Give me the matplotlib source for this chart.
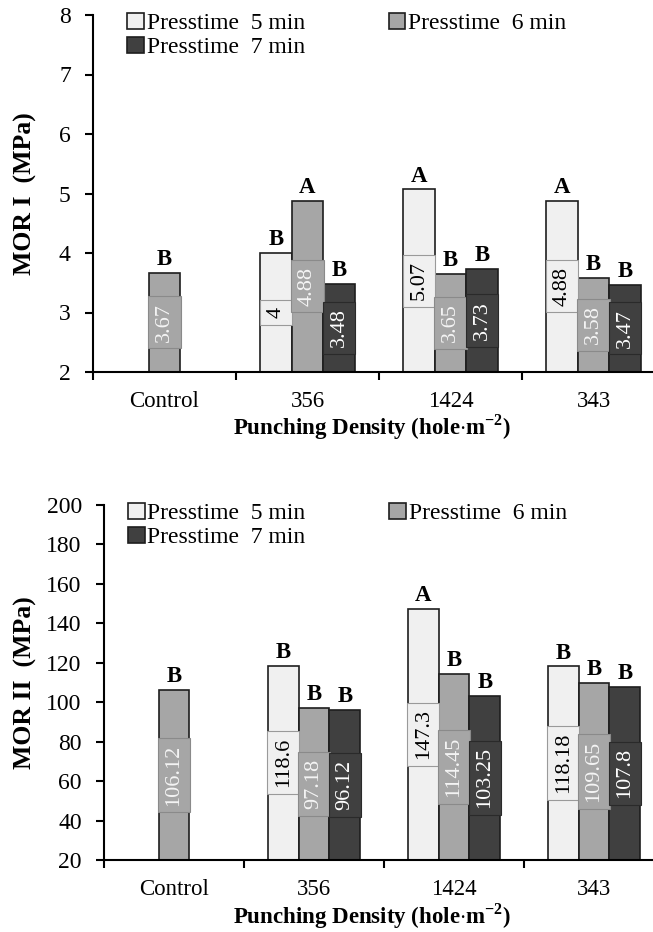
"""
MOR I / MOR II bar charts by punching density and press time
"""
import numpy as np
import matplotlib
matplotlib.use("Agg")
import matplotlib.pyplot as plt

plt.rcParams["font.family"] = ["Liberation Serif", "DejaVu Serif"]
plt.rcParams["mathtext.fontset"] = "custom"
plt.rcParams["mathtext.rm"] = "Liberation Serif"
plt.rcParams["mathtext.bf"] = "Liberation Serif:bold"

categories = ["Control", "356", "1424", "343"]
series_names = ["Presstime  5 min", "Presstime  6 min", "Presstime  7 min"]

# MOR I (MPa)
mor1_5 = [0, 4, 5.07, 4.88]
mor1_6 = [3.67, 4.88, 3.65, 3.58]
mor1_7 = [0, 3.48, 3.73, 3.47]
mor1_let_5 = ["", "B", "A", "A"]
mor1_let_6 = ["B", "A", "B", "B"]
mor1_let_7 = ["", "B", "B", "B"]

# MOR II (MPa)
mor2_5 = [0, 118.6, 147.3, 118.18]
mor2_6 = [106.12, 97.18, 114.45, 109.65]
mor2_7 = [0, 96.12, 103.25, 107.8]
mor2_let_5 = ["", "B", "A", "B"]
mor2_let_6 = ["B", "B", "B", "B"]
mor2_let_7 = ["", "B", "B", "B"]

fills = ["#f0f0f0", "#a6a6a6", "#404040"]
txt_colors = ["black", "#f4f4f4", "white"]
box_edges = ["#9a9a9a", "#8a8a8a", "#2a2a2a"]


def panel(ax, series, letters, ymin, ymax, ystep, ylabel, xlab_x, xlab_y, leg_x):
    x = np.arange(len(categories))
    w = 0.22
    bars = []
    for i, (vals, lets) in enumerate(zip(series, letters)):
        pos = x + (i - 1) * w
        heights = [v - ymin for v in vals]
        b = ax.bar(pos, heights, w, bottom=ymin, color=fills[i],
                   edgecolor="#1e1e1e", linewidth=1.2, label=series_names[i])
        bars.append(b)
        for p, v, l in zip(pos, vals, lets):
            if v <= 0:
                continue
            ax.text(p, (ymin + v) / 2, f"{v:g}", rotation=90, ha="center", va="center",
                    fontsize=16, color=txt_colors[i],
                    bbox=dict(boxstyle="square,pad=0.3", facecolor=fills[i],
                              edgecolor=box_edges[i], linewidth=0.8))
            ax.annotate(l, (p, v), xytext=(0, 2), textcoords="offset points",
                        ha="center", va="bottom", fontsize=16.5, fontweight="bold")
    ax.set_ylim(ymin, ymax)
    ax.set_yticks(np.arange(ymin, ymax + ystep / 2, ystep))
    ax.set_xlim(-0.5, 3.5)
    ax.set_xticks(x)
    ax.set_xticklabels(categories)
    ax.set_xticks(np.arange(-0.5, 3.6, 1), minor=True)
    ax.tick_params(axis="x", which="major", length=0, pad=14, labelsize=16.5)
    ax.tick_params(axis="x", which="minor", length=6, width=1.5, direction="out")
    ax.tick_params(axis="y", length=6, width=1.5, labelsize=17, pad=10)
    for s in ["top", "right"]:
        ax.spines[s].set_visible(False)
    for s in ["left", "bottom"]:
        ax.spines[s].set_linewidth(1.5)
    ax.set_ylabel(ylabel, fontsize=18.5, fontweight="bold")
    ax.set_xlabel(r"Punching Density (hole$\cdot$m$^{\mathbf{-2}}$)", fontsize=16.5,
                  fontweight="bold")
    ax.xaxis.set_label_coords(xlab_x, xlab_y)
    handles = [bars[0], bars[2], bars[1]]
    labels = [series_names[0], series_names[2], series_names[1]]
    ax.legend(handles, labels, ncol=2, loc="upper left", bbox_to_anchor=(leg_x, 1.006),
              frameon=False, fontsize=17, handlelength=0.7, handleheight=0.7,
              handletextpad=0.12, columnspacing=3.55, labelspacing=0.1,
              borderpad=0, borderaxespad=0)


fig = plt.figure(figsize=(6.53, 9.32), dpi=100)
ax1 = fig.add_axes([93 / 653, 1 - 372 / 932, 572 / 653, 357 / 932])
ax2 = fig.add_axes([104 / 653, 1 - 860 / 932, 560 / 653, 355 / 932])

panel(ax1, [mor1_5, mor1_6, mor1_7], [mor1_let_5, mor1_let_6, mor1_let_7],
      2, 8, 1, "MOR I  (MPa)", 0.488, -0.112, 0.06)
panel(ax2, [mor2_5, mor2_6, mor2_7], [mor2_let_5, mor2_let_6, mor2_let_7],
      20, 200, 20, "MOR II  (MPa)", 0.479, -0.118, 0.043)
ax1.yaxis.set_label_coords(-0.098, 0.5)
ax2.yaxis.set_label_coords(-0.12, 0.5)

fig.savefig("out.png", dpi=100)
